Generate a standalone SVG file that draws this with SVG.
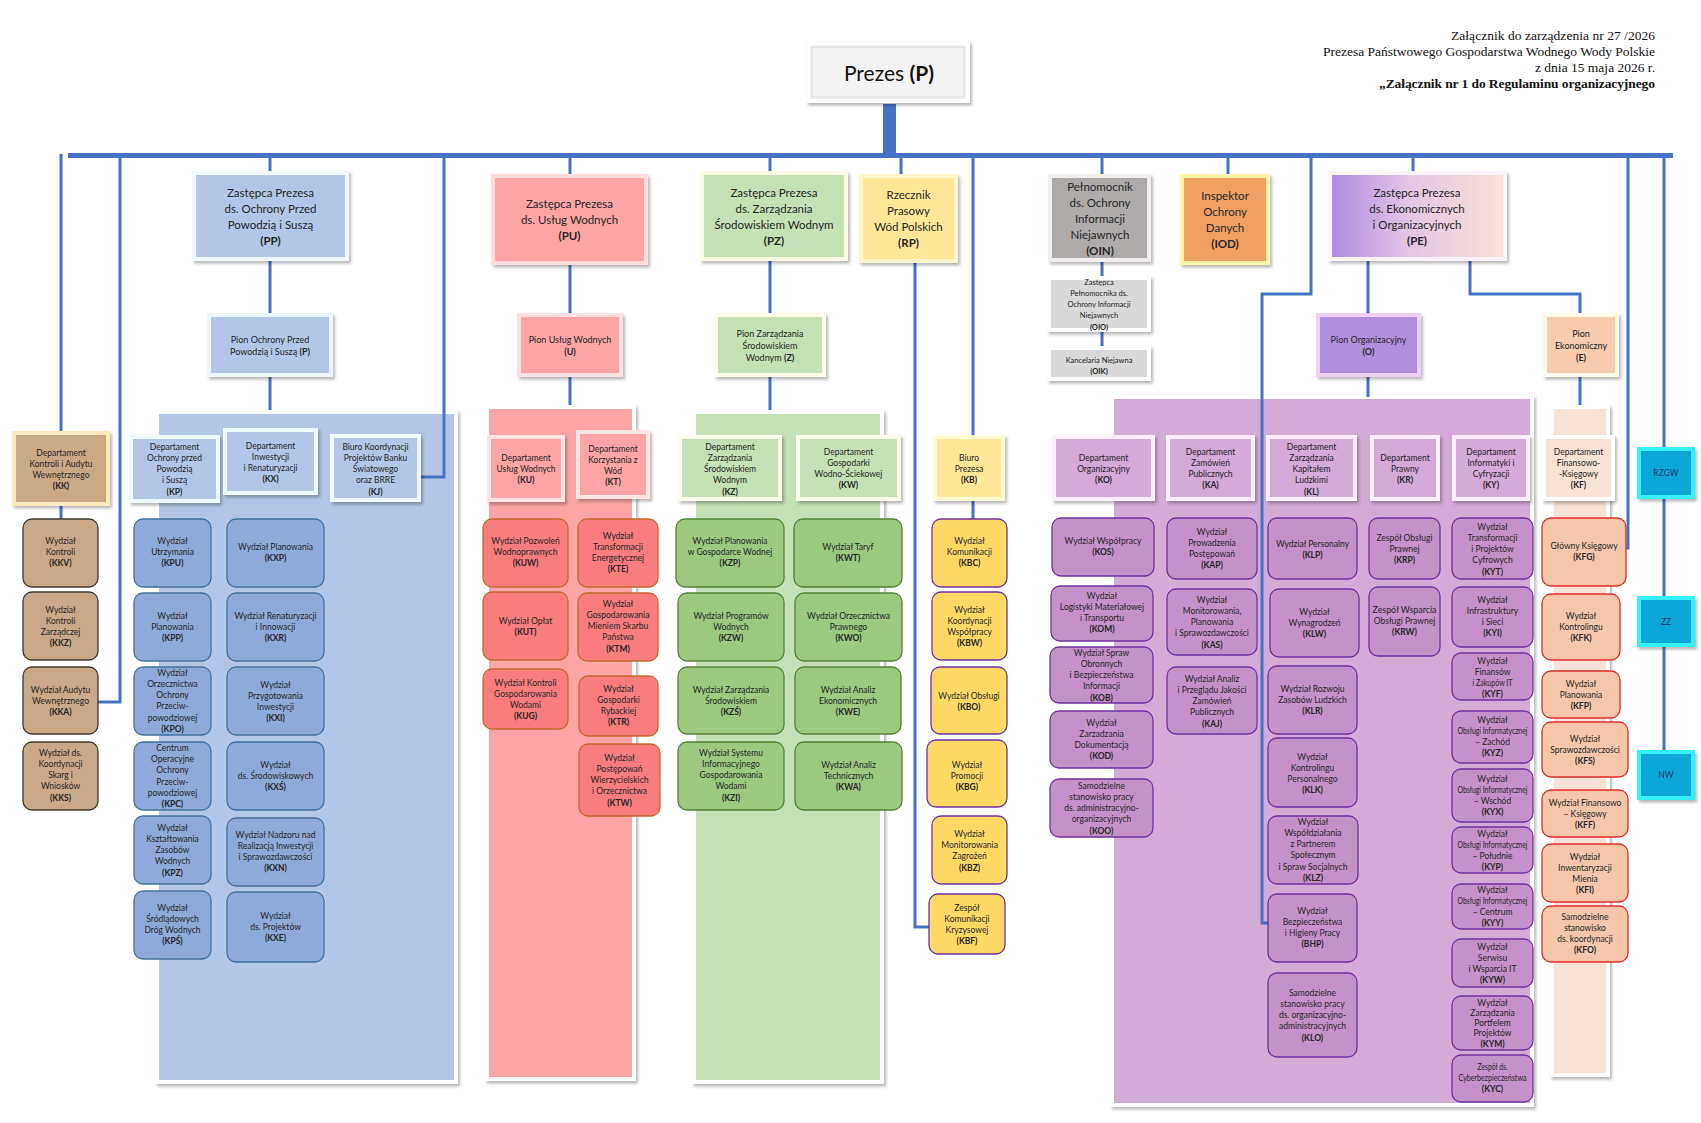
<svg xmlns="http://www.w3.org/2000/svg" width="1701" height="1123" viewBox="0 0 1701 1123">
<defs>
<filter id="sh" x="-10%" y="-10%" width="130%" height="130%"><feDropShadow dx="2" dy="2.5" stdDeviation="1.5" flood-color="#000" flood-opacity="0.28"/></filter>
<linearGradient id="gPE" x1="0" y1="0" x2="1" y2="0"><stop offset="0" stop-color="#ad8ae0"/><stop offset="0.45" stop-color="#e2c6e4"/><stop offset="1" stop-color="#f8e2d6"/></linearGradient>
</defs>
<style>
text{font-family:Lato,"Liberation Sans",sans-serif;fill:#262626;text-anchor:middle}
.s{font-size:8.5px}
.m{font-size:9px}
.l{font-size:11.5px}
.xs{font-size:7.5px}
.b{font-weight:bold}
.hd{font-family:"Liberation Serif",serif;font-size:13.5px;text-anchor:end;fill:#111}
.c{stroke:#4472c4;stroke-width:3;fill:none}
.fr{stroke-width:4;filter:url(#sh)}
.w{rx:9px;ry:9px;stroke-width:1.3px}
.tn{fill:#c8a886;stroke:#3d3830}
.bl{fill:#8eaadb;stroke:#41719c}
.rd{fill:#f97d7d;stroke:#c5682e}
.gr{fill:#9cc97e;stroke:#538135}
.ye{fill:#ffd966;stroke:#7030a0}
.pu{fill:#c492c8;stroke:#7030a0}
.pe{fill:#f5c6a9;stroke:#e02b2b}
.sq{fill:#0ba7d7;stroke:#35f0fa;stroke-width:4;filter:url(#sh)}
.sqt{fill:#1f3864;font-size:8.5px}
</style>
<rect width="1701" height="1123" fill="#fff"/>

<g id="header">
<text class="hd" x="1655" y="40" textLength="204" lengthAdjust="spacing">Załącznik do zarządzenia nr  27 /2026</text>
<text class="hd" x="1655" y="56" textLength="332" lengthAdjust="spacing">Prezesa Państwowego Gospodarstwa Wodnego Wody Polskie</text>
<text class="hd" x="1655" y="72" textLength="120" lengthAdjust="spacing">z dnia 15 maja 2026 r.</text>
<text class="hd b" x="1655" y="88" textLength="276" lengthAdjust="spacing">„Załącznik nr 1 do Regulaminu organizacyjnego</text>
</g>

<g id="panels">
<rect id="panel-P" x="157" y="412" width="299" height="670" fill="#b4c6e7" stroke="#fff" class="fr"/>
<rect id="panel-U" x="487" y="407" width="147" height="672" fill="#fca5a6" stroke="#fff" class="fr"/>
<rect id="panel-Z" x="694" y="412" width="188" height="670" fill="#c5e0b4" stroke="#fff" class="fr"/>
<rect id="panel-O" x="1112" y="397" width="420" height="708" fill="#d4aad7" stroke="#fff" class="fr"/>
<rect id="panel-E" x="1552" y="407" width="56" height="668" fill="#f8e1d5" stroke="#fff" class="fr"/>
</g>

<g id="connectors">
<rect x="883" y="104" width="13" height="52" fill="#4472c4"/>
<line x1="68" y1="155.5" x2="1673" y2="155.5" stroke="#4472c4" stroke-width="5"/>
<path class="c" d="M61 154V433M61 504V519"/>
<path class="c" d="M120 157V702H98"/>
<path class="c" d="M270 157V173M270 259V315M270 375V410"/>
<path class="c" d="M444 157V477H419"/>
<path class="c" d="M570 157V176M570 263V315M570 375V405"/>
<path class="c" d="M770 157V173M770 259V315M770 375V410"/>
<path class="c" d="M901 157V176M915 261V927H929"/>
<path class="c" d="M973 157V437M973 499V519"/>
<path class="c" d="M1102 157V176M1102 260V278M1102 330V348"/>
<path class="c" d="M1228 157V176"/>
<path class="c" d="M1311 157V294H1262V923H1268"/>
<path class="c" d="M1413 157V173M1368 259V315M1368 375V397M1470 259V294H1580V315M1580 375V405"/>
<path class="c" d="M1628 157V548H1626"/>
<path class="c" d="M1664 157V752"/>
</g>

<g id="n-P">
<rect x="808" y="43" width="160" height="58" fill="#f3f3f3" stroke="#fcfcfc" class="fr"/>
<rect x="812" y="47" width="152" height="50" fill="none" stroke="#d9d9d9" stroke-width="1"/>
<text x="889" y="81" style="font-size:21px;fill:#111">Prezes <tspan class="b">(P)</tspan></text>
</g>

<g id="n-PP"><rect x="194" y="173" width="153" height="86" fill="#b4c6e7" stroke="#f2f8ff" class="fr"/>
<text class="l"><tspan x="270.5" y="197">Zastępca Prezesa</tspan><tspan x="270.5" y="213">ds. Ochrony Przed</tspan><tspan x="270.5" y="229">Powodzią i Suszą</tspan><tspan x="270.5" y="245" class="b">(PP)</tspan></text></g>
<g id="n-PU"><rect x="493" y="176" width="153" height="87" fill="#fca5a6" stroke="#ffdcdc" class="fr"/>
<text class="l"><tspan x="569.5" y="208">Zastępca Prezesa</tspan><tspan x="569.5" y="224">ds. Usług Wodnych</tspan><tspan x="569.5" y="240" class="b">(PU)</tspan></text></g>
<g id="n-PZ"><rect x="702" y="173" width="144" height="86" fill="#c5e0b4" stroke="#fbfbe8" class="fr"/>
<text class="l"><tspan x="774" y="197">Zastępca Prezesa</tspan><tspan x="774" y="213">ds. Zarządzania</tspan><tspan x="774" y="229">Środowiskiem Wodnym</tspan><tspan x="774" y="245" class="b">(PZ)</tspan></text></g>
<g id="n-RP"><rect x="861" y="176" width="95" height="85" fill="#ffe699" stroke="#fff7cc" class="fr"/>
<text class="l"><tspan x="908.5" y="199">Rzecznik</tspan><tspan x="908.5" y="215">Prasowy</tspan><tspan x="908.5" y="231">Wód Polskich</tspan><tspan x="908.5" y="247" class="b">(RP)</tspan></text></g>
<g id="n-OIN"><rect x="1050" y="176" width="99" height="84" fill="#aeaaaa" stroke="#f2eeee" class="fr"/>
<text class="l"><tspan x="1100" y="191">Pełnomocnik</tspan><tspan x="1100" y="207">ds. Ochrony</tspan><tspan x="1100" y="223">Informacji</tspan><tspan x="1100" y="239">Niejawnych</tspan><tspan x="1100" y="255" class="b">(OIN)</tspan></text></g>
<g id="n-IOD"><rect x="1182" y="176" width="86" height="87" fill="#f09f62" stroke="#fff3a8" class="fr"/>
<text class="l"><tspan x="1225" y="200">Inspektor</tspan><tspan x="1225" y="216">Ochrony</tspan><tspan x="1225" y="232">Danych</tspan><tspan x="1225" y="248" class="b">(IOD)</tspan></text></g>
<g id="n-PE"><rect x="1330" y="173" width="175" height="86" fill="url(#gPE)" stroke="#fbf4fb" class="fr"/>
<text class="l"><tspan x="1417" y="197">Zastępca Prezesa</tspan><tspan x="1417" y="213">ds. Ekonomicznych</tspan><tspan x="1417" y="229">i Organizacyjnych</tspan><tspan x="1417" y="245" class="b">(PE)</tspan></text></g>

<g id="n-PionP"><rect x="209" y="315" width="122" height="60" fill="#b4c6e7" stroke="#eef6ff" class="fr"/>
<text class="m"><tspan x="270" y="343">Pion Ochrony Przed</tspan><tspan x="270" y="355">Powodzią i Suszą <tspan class="b">(P)</tspan></tspan></text></g>
<g id="n-PionU"><rect x="519" y="315" width="102" height="60" fill="#fca5a6" stroke="#ffe0e0" class="fr"/>
<text class="m"><tspan x="570" y="343">Pion Usług Wodnych</tspan><tspan x="570" y="355" class="b">(U)</tspan></text></g>
<g id="n-PionZ"><rect x="716" y="315" width="108" height="60" fill="#c5e0b4" stroke="#fffde8" class="fr"/>
<text class="m"><tspan x="770" y="337">Pion Zarządzania</tspan><tspan x="770" y="349">Środowiskiem</tspan><tspan x="770" y="361">Wodnym <tspan class="b">(Z)</tspan></tspan></text></g>
<g id="n-PionO"><rect x="1318" y="315" width="101" height="60" fill="#b08fdf" stroke="#eed0f8" class="fr"/>
<text class="m"><tspan x="1368.5" y="343">Pion Organizacyjny</tspan><tspan x="1368.5" y="355" class="b">(O)</tspan></text></g>
<g id="n-PionE"><rect x="1545" y="315" width="72" height="60" fill="#f8cbad" stroke="#fffbe8" class="fr"/>
<text class="m"><tspan x="1581" y="337">Pion</tspan><tspan x="1581" y="349">Ekonomiczny</tspan><tspan x="1581" y="361" class="b">(E)</tspan></text></g>
<g id="n-OIO"><rect x="1049" y="278" width="100" height="52" fill="#d9d9d9" stroke="#fff" class="fr"/>
<text class="xs"><tspan x="1099" y="285">Zastępca</tspan><tspan x="1099" y="296">Pełnomocnika ds.</tspan><tspan x="1099" y="307">Ochrony Informacji</tspan><tspan x="1099" y="318">Niejawnych</tspan><tspan x="1099" y="329.5" class="b">(OIO)</tspan></text></g>
<g id="n-OIK"><rect x="1049" y="348" width="100" height="31" fill="#d9d9d9" stroke="#fff" class="fr"/>
<text class="xs"><tspan x="1099" y="363">Kancelaria Niejawna</tspan><tspan x="1099" y="374" class="b">(OIK)</tspan></text></g>

<g id="n-KK"><rect x="14" y="433" width="94" height="71" fill="#c9a984" stroke="#fde9c0" class="fr"/>
<text class="s"><tspan x="61" y="456">Departament</tspan><tspan x="61" y="467">Kontroli i Audytu</tspan><tspan x="61" y="478">Wewnętrznego</tspan><tspan x="61" y="489" class="b">(KK)</tspan></text></g>
<g id="n-KKV"><rect class="w tn" x="23" y="519" width="75" height="68"/><text class="s"><tspan x="60.5" y="544">Wydział</tspan><tspan x="60.5" y="555">Kontroli</tspan><tspan x="60.5" y="566" class="b">(KKV)</tspan></text></g>
<g id="n-KKZ"><rect class="w tn" x="23" y="592" width="75" height="68"/><text class="s"><tspan x="60.5" y="613">Wydział</tspan><tspan x="60.5" y="624">Kontroli</tspan><tspan x="60.5" y="635">Zarządczej</tspan><tspan x="60.5" y="646" class="b">(KKZ)</tspan></text></g>
<g id="n-KKA"><rect class="w tn" x="23" y="667" width="75" height="67"/><text class="s"><tspan x="60.5" y="693">Wydział Audytu</tspan><tspan x="60.5" y="704">Wewnętrznego</tspan><tspan x="60.5" y="715" class="b">(KKA)</tspan></text></g>
<g id="n-KKS"><rect class="w tn" x="23" y="742" width="75" height="68"/><text class="s"><tspan x="60.5" y="756">Wydział ds.</tspan><tspan x="60.5" y="767">Koordynacji</tspan><tspan x="60.5" y="778">Skarg i</tspan><tspan x="60.5" y="789">Wniosków</tspan><tspan x="60.5" y="801" class="b">(KKS)</tspan></text></g>

<g id="n-KP"><rect x="131" y="437" width="87" height="64" fill="#b4c6e7" stroke="#eefaff" class="fr"/>
<text class="s"><tspan x="174.5" y="450">Departament</tspan><tspan x="174.5" y="461">Ochrony przed</tspan><tspan x="174.5" y="472">Powodzią</tspan><tspan x="174.5" y="483">i Suszą</tspan><tspan x="174.5" y="495" class="b">(KP)</tspan></text></g>
<g id="n-KX"><rect x="225" y="430" width="91" height="63" fill="#b4c6e7" stroke="#eefaff" class="fr"/>
<text class="s"><tspan x="270.5" y="449">Departament</tspan><tspan x="270.5" y="460">Inwestycji</tspan><tspan x="270.5" y="471">i Renaturyzacji</tspan><tspan x="270.5" y="482" class="b">(KX)</tspan></text></g>
<g id="n-KJ"><rect x="332" y="436" width="87" height="64" fill="#b4c6e7" stroke="#eefaff" class="fr"/>
<text class="s"><tspan x="375.5" y="450">Biuro Koordynacji</tspan><tspan x="375.5" y="461">Projektów Banku</tspan><tspan x="375.5" y="472">Światowego</tspan><tspan x="375.5" y="483">oraz BRRE</tspan><tspan x="375.5" y="495" class="b">(KJ)</tspan></text></g>
<g id="n-KPU"><rect class="w bl" x="134" y="519" width="77" height="68"/><text class="s"><tspan x="172.5" y="544">Wydział</tspan><tspan x="172.5" y="555">Utrzymania</tspan><tspan x="172.5" y="566" class="b">(KPU)</tspan></text></g>
<g id="n-KXP"><rect class="w bl" x="227" y="519" width="97" height="68"/><text class="s"><tspan x="275.5" y="550">Wydział Planowania</tspan><tspan x="275.5" y="561" class="b">(KXP)</tspan></text></g>
<g id="n-KPP"><rect class="w bl" x="134" y="593" width="77" height="68"/><text class="s"><tspan x="172.5" y="619">Wydział</tspan><tspan x="172.5" y="630">Planowania</tspan><tspan x="172.5" y="641" class="b">(KPP)</tspan></text></g>
<g id="n-KXR"><rect class="w bl" x="227" y="593" width="97" height="68"/><text class="s"><tspan x="275.5" y="619">Wydział Renaturyzacji</tspan><tspan x="275.5" y="630">i Innowacji</tspan><tspan x="275.5" y="641" class="b">(KXR)</tspan></text></g>
<g id="n-KPO"><rect class="w bl" x="134" y="667" width="77" height="68"/><text class="s"><tspan x="172.5" y="676">Wydział</tspan><tspan x="172.5" y="687">Orzecznictwa</tspan><tspan x="172.5" y="698">Ochrony</tspan><tspan x="172.5" y="709">Przeciw-</tspan><tspan x="172.5" y="721">powodziowej</tspan><tspan x="172.5" y="732" class="b">(KPO)</tspan></text></g>
<g id="n-KXI"><rect class="w bl" x="227" y="667" width="97" height="68"/><text class="s"><tspan x="275.5" y="688">Wydział</tspan><tspan x="275.5" y="699">Przygotowania</tspan><tspan x="275.5" y="710">Inwestycji</tspan><tspan x="275.5" y="721" class="b">(KXI)</tspan></text></g>
<g id="n-KPC"><rect class="w bl" x="134" y="742" width="77" height="68"/><text class="s"><tspan x="172.5" y="751">Centrum</tspan><tspan x="172.5" y="762">Operacyjne</tspan><tspan x="172.5" y="773">Ochrony</tspan><tspan x="172.5" y="785">Przeciw-</tspan><tspan x="172.5" y="796">powodziowej</tspan><tspan x="172.5" y="807" class="b">(KPC)</tspan></text></g>
<g id="n-KXS"><rect class="w bl" x="227" y="742" width="97" height="68"/><text class="s"><tspan x="275.5" y="768">Wydział</tspan><tspan x="275.5" y="779">ds. Środowiskowych</tspan><tspan x="275.5" y="790" class="b">(KXŚ)</tspan></text></g>
<g id="n-KPZ"><rect class="w bl" x="134" y="816" width="77" height="68"/><text class="s"><tspan x="172.5" y="831">Wydział</tspan><tspan x="172.5" y="842">Kształtowania</tspan><tspan x="172.5" y="853">Zasobów</tspan><tspan x="172.5" y="864">Wodnych</tspan><tspan x="172.5" y="876" class="b">(KPZ)</tspan></text></g>
<g id="n-KXN"><rect class="w bl" x="227" y="818" width="97" height="68"/><text class="s"><tspan x="275.5" y="838">Wydział Nadzoru nad</tspan><tspan x="275.5" y="849">Realizacją Inwestycji</tspan><tspan x="275.5" y="860">i Sprawozdawczości</tspan><tspan x="275.5" y="871" class="b">(KXN)</tspan></text></g>
<g id="n-KPS"><rect class="w bl" x="134" y="891" width="77" height="68"/><text class="s"><tspan x="172.5" y="911">Wydział</tspan><tspan x="172.5" y="922">Śródlądowych</tspan><tspan x="172.5" y="933">Dróg Wodnych</tspan><tspan x="172.5" y="944" class="b">(KPŚ)</tspan></text></g>
<g id="n-KXE"><rect class="w bl" x="227" y="892" width="97" height="70"/><text class="s"><tspan x="275.5" y="919">Wydział</tspan><tspan x="275.5" y="930">ds. Projektów</tspan><tspan x="275.5" y="941" class="b">(KXE)</tspan></text></g>

<g id="n-KU"><rect x="489" y="437" width="74" height="63" fill="#fca5a6" stroke="#ffe4e4" class="fr"/>
<text class="s"><tspan x="526" y="461">Departament</tspan><tspan x="526" y="472">Usług Wodnych</tspan><tspan x="526" y="483" class="b">(KU)</tspan></text></g>
<g id="n-KT"><rect x="578" y="432" width="70" height="65" fill="#fca5a6" stroke="#ffe4e4" class="fr"/>
<text class="s"><tspan x="613" y="452">Departament</tspan><tspan x="613" y="463">Korzystania z</tspan><tspan x="613" y="474">Wód</tspan><tspan x="613" y="485" class="b">(KT)</tspan></text></g>
<g id="n-KUW"><rect class="w rd" x="483" y="519" width="85" height="68"/><text class="s"><tspan x="525.5" y="544">Wydział Pozwoleń</tspan><tspan x="525.5" y="555">Wodnoprawnych</tspan><tspan x="525.5" y="566" class="b">(KUW)</tspan></text></g>
<g id="n-KTE"><rect class="w rd" x="578" y="519" width="80" height="68"/><text class="s"><tspan x="618" y="539">Wydział</tspan><tspan x="618" y="550">Transformacji</tspan><tspan x="618" y="561">Energetycznej</tspan><tspan x="618" y="572" class="b">(KTE)</tspan></text></g>
<g id="n-KUT"><rect class="w rd" x="483" y="592" width="85" height="68"/><text class="s"><tspan x="525.5" y="624">Wydział Opłat</tspan><tspan x="525.5" y="635" class="b">(KUT)</tspan></text></g>
<g id="n-KTM"><rect class="w rd" x="578" y="593" width="80" height="68"/><text class="s"><tspan x="618" y="607">Wydział</tspan><tspan x="618" y="618">Gospodarowania</tspan><tspan x="618" y="629">Mieniem Skarbu</tspan><tspan x="618" y="640">Państwa</tspan><tspan x="618" y="652" class="b">(KTM)</tspan></text></g>
<g id="n-KUG"><rect class="w rd" x="483" y="669" width="85" height="60"/><text class="s"><tspan x="525.5" y="686">Wydział Kontroli</tspan><tspan x="525.5" y="697">Gospodarowania</tspan><tspan x="525.5" y="708">Wodami</tspan><tspan x="525.5" y="719" class="b">(KUG)</tspan></text></g>
<g id="n-KTR"><rect class="w rd" x="579" y="676" width="79" height="60"/><text class="s"><tspan x="618.5" y="692">Wydział</tspan><tspan x="618.5" y="703">Gospodarki</tspan><tspan x="618.5" y="714">Rybackiej</tspan><tspan x="618.5" y="725" class="b">(KTR)</tspan></text></g>
<g id="n-KTW"><rect class="w rd" x="579" y="744" width="81" height="72"/><text class="s"><tspan x="619.5" y="761">Wydział</tspan><tspan x="619.5" y="772">Postępowań</tspan><tspan x="619.5" y="783">Wierzycielskich</tspan><tspan x="619.5" y="794">i Orzecznictwa</tspan><tspan x="619.5" y="806" class="b">(KTW)</tspan></text></g>

<g id="n-KZ"><rect x="680" y="437" width="100" height="62" fill="#c5e0b4" stroke="#fdfdec" class="fr"/>
<text class="s"><tspan x="730" y="450">Departament</tspan><tspan x="730" y="461">Zarządzania</tspan><tspan x="730" y="472">Środowiskiem</tspan><tspan x="730" y="483">Wodnym</tspan><tspan x="730" y="495" class="b">(KZ)</tspan></text></g>
<g id="n-KW"><rect x="798" y="437" width="101" height="62" fill="#c5e0b4" stroke="#fdfdec" class="fr"/>
<text class="s"><tspan x="848.5" y="455">Departament</tspan><tspan x="848.5" y="466">Gospodarki</tspan><tspan x="848.5" y="477">Wodno-Ściekowej</tspan><tspan x="848.5" y="488" class="b">(KW)</tspan></text></g>
<g id="n-KZP"><rect class="w gr" x="676" y="519" width="108" height="68"/><text class="s"><tspan x="730" y="544">Wydział Planowania</tspan><tspan x="730" y="555">w Gospodarce Wodnej</tspan><tspan x="730" y="566" class="b">(KZP)</tspan></text></g>
<g id="n-KWT"><rect class="w gr" x="794" y="519" width="108" height="68"/><text class="s"><tspan x="848" y="550">Wydział Taryf</tspan><tspan x="848" y="561" class="b">(KWT)</tspan></text></g>
<g id="n-KZW"><rect class="w gr" x="678" y="593" width="106" height="68"/><text class="s"><tspan x="731" y="619">Wydział Programów</tspan><tspan x="731" y="630">Wodnych</tspan><tspan x="731" y="641" class="b">(KZW)</tspan></text></g>
<g id="n-KWO"><rect class="w gr" x="795" y="593" width="107" height="68"/><text class="s"><tspan x="848.5" y="619">Wydział Orzecznictwa</tspan><tspan x="848.5" y="630">Prawnego</tspan><tspan x="848.5" y="641" class="b">(KWO)</tspan></text></g>
<g id="n-KZS"><rect class="w gr" x="678" y="667" width="106" height="67"/><text class="s"><tspan x="731" y="693">Wydział Zarządzania</tspan><tspan x="731" y="704">Środowiskiem</tspan><tspan x="731" y="715" class="b">(KZŚ)</tspan></text></g>
<g id="n-KWE"><rect class="w gr" x="795" y="667" width="106" height="67"/><text class="s"><tspan x="848" y="693">Wydział Analiz</tspan><tspan x="848" y="704">Ekonomicznych</tspan><tspan x="848" y="715" class="b">(KWE)</tspan></text></g>
<g id="n-KZI"><rect class="w gr" x="678" y="742" width="106" height="68"/><text class="s"><tspan x="731" y="756">Wydział Systemu</tspan><tspan x="731" y="767">Informacyjnego</tspan><tspan x="731" y="778">Gospodarowania</tspan><tspan x="731" y="789">Wodami</tspan><tspan x="731" y="801" class="b">(KZI)</tspan></text></g>
<g id="n-KWA"><rect class="w gr" x="795" y="742" width="107" height="68"/><text class="s"><tspan x="848.5" y="768">Wydział Analiz</tspan><tspan x="848.5" y="779">Technicznych</tspan><tspan x="848.5" y="790" class="b">(KWA)</tspan></text></g>

<g id="n-KB"><rect x="935" y="437" width="68" height="62" fill="#ffe699" stroke="#ffffd4" class="fr"/>
<text class="s"><tspan x="969" y="461">Biuro</tspan><tspan x="969" y="472">Prezesa</tspan><tspan x="969" y="483" class="b">(KB)</tspan></text></g>
<g id="n-KBC"><rect class="w ye" x="932" y="519" width="75" height="68"/><text class="s"><tspan x="969.5" y="544">Wydział</tspan><tspan x="969.5" y="555">Komunikacji</tspan><tspan x="969.5" y="566" class="b">(KBC)</tspan></text></g>
<g id="n-KBW"><rect class="w ye" x="932" y="592" width="75" height="68"/><text class="s"><tspan x="969.5" y="613">Wydział</tspan><tspan x="969.5" y="624">Koordynacji</tspan><tspan x="969.5" y="635">Współpracy</tspan><tspan x="969.5" y="646" class="b">(KBW)</tspan></text></g>
<g id="n-KBO"><rect class="w ye" x="931" y="667" width="76" height="67"/><text class="s"><tspan x="969" y="699">Wydział Obsługi</tspan><tspan x="969" y="710" class="b">(KBO)</tspan></text></g>
<g id="n-KBG"><rect class="w ye" x="927" y="740" width="80" height="67"/><text class="s"><tspan x="967" y="768">Wydział</tspan><tspan x="967" y="779">Promocji</tspan><tspan x="967" y="790" class="b">(KBG)</tspan></text></g>
<g id="n-KBZ"><rect class="w ye" x="932" y="816" width="75" height="68"/><text class="s"><tspan x="969.5" y="837">Wydział</tspan><tspan x="969.5" y="848">Monitorowania</tspan><tspan x="969.5" y="859">Zagrożeń</tspan><tspan x="969.5" y="871" class="b">(KBZ)</tspan></text></g>
<g id="n-KBF"><rect class="w ye" x="929" y="894" width="76" height="60"/><text class="s"><tspan x="967" y="911">Zespół</tspan><tspan x="967" y="922">Komunikacji</tspan><tspan x="967" y="933">Kryzysowej</tspan><tspan x="967" y="944" class="b">(KBF)</tspan></text></g>

<g id="n-KO"><rect x="1054" y="437" width="99" height="62" fill="#d4aad7" stroke="#fdf0fd" class="fr"/>
<text class="s"><tspan x="1103.5" y="461">Departament</tspan><tspan x="1103.5" y="472">Organizacyjny</tspan><tspan x="1103.5" y="483" class="b">(KO)</tspan></text></g>
<g id="n-KA"><rect x="1168" y="437" width="85" height="62" fill="#d4aad7" stroke="#fdf0fd" class="fr"/>
<text class="s"><tspan x="1210.5" y="455">Departament</tspan><tspan x="1210.5" y="466">Zamówień</tspan><tspan x="1210.5" y="477">Publicznych</tspan><tspan x="1210.5" y="488" class="b">(KA)</tspan></text></g>
<g id="n-KL"><rect x="1268" y="437" width="87" height="62" fill="#d4aad7" stroke="#fdf0fd" class="fr"/>
<text class="s"><tspan x="1311.5" y="450">Departament</tspan><tspan x="1311.5" y="461">Zarządzania</tspan><tspan x="1311.5" y="472">Kapitałem</tspan><tspan x="1311.5" y="483">Ludzkimi</tspan><tspan x="1311.5" y="495" class="b">(KL)</tspan></text></g>
<g id="n-KR"><rect x="1372" y="437" width="66" height="62" fill="#d4aad7" stroke="#fdf0fd" class="fr"/>
<text class="s"><tspan x="1405" y="461">Departament</tspan><tspan x="1405" y="472">Prawny</tspan><tspan x="1405" y="483" class="b">(KR)</tspan></text></g>
<g id="n-KY"><rect x="1454" y="437" width="74" height="62" fill="#d4aad7" stroke="#fdf0fd" class="fr"/>
<text class="s"><tspan x="1491" y="455">Departament</tspan><tspan x="1491" y="466">Informatyki i</tspan><tspan x="1491" y="477">Cyfryzacji</tspan><tspan x="1491" y="488" class="b">(KY)</tspan></text></g>
<g id="n-KF"><rect x="1544" y="437" width="69" height="62" fill="#f8e1d5" stroke="#fff" class="fr"/>
<text class="s"><tspan x="1578.5" y="455">Departament</tspan><tspan x="1578.5" y="466">Finansowo-</tspan><tspan x="1578.5" y="477">-Księgowy</tspan><tspan x="1578.5" y="488" class="b">(KF)</tspan></text></g>

<g id="n-KOS"><rect class="w pu" x="1052" y="518" width="102" height="58"/><text class="s"><tspan x="1103" y="544">Wydział Współpracy</tspan><tspan x="1103" y="555" class="b">(KOS)</tspan></text></g>
<g id="n-KOM"><rect class="w pu" x="1051" y="586" width="102" height="55"/><text class="s"><tspan x="1102" y="599">Wydział</tspan><tspan x="1102" y="610">Logistyki Materiałowej</tspan><tspan x="1102" y="621">i Transportu</tspan><tspan x="1102" y="632" class="b">(KOM)</tspan></text></g>
<g id="n-KOB"><rect class="w pu" x="1050" y="647" width="103" height="56"/><text class="s"><tspan x="1101.5" y="656">Wydział Spraw</tspan><tspan x="1101.5" y="667">Obronnych</tspan><tspan x="1101.5" y="678">i Bezpieczeństwa</tspan><tspan x="1101.5" y="689">Informacji</tspan><tspan x="1101.5" y="701" class="b">(KOB)</tspan></text></g>
<g id="n-KOD"><rect class="w pu" x="1050" y="711" width="103" height="57"/><text class="s"><tspan x="1101.5" y="726">Wydział</tspan><tspan x="1101.5" y="737">Zarzadzania</tspan><tspan x="1101.5" y="748">Dokumentacją</tspan><tspan x="1101.5" y="759" class="b">(KOD)</tspan></text></g>
<g id="n-KOO"><rect class="w pu" x="1050" y="779" width="103" height="58"/><text class="s"><tspan x="1101.5" y="789">Samodzielne</tspan><tspan x="1101.5" y="800">stanowisko pracy</tspan><tspan x="1101.5" y="811">ds. administracyjno-</tspan><tspan x="1101.5" y="822">organizacyjnych</tspan><tspan x="1101.5" y="834" class="b">(KOO)</tspan></text></g>

<g id="n-KAP"><rect class="w pu" x="1167" y="518" width="90" height="61"/><text class="s"><tspan x="1212" y="535">Wydział</tspan><tspan x="1212" y="546">Prowadzenia</tspan><tspan x="1212" y="557">Postępowań</tspan><tspan x="1212" y="568" class="b">(KAP)</tspan></text></g>
<g id="n-KAS"><rect class="w pu" x="1167" y="589" width="90" height="66"/><text class="s"><tspan x="1212" y="603">Wydział</tspan><tspan x="1212" y="614">Monitorowania,</tspan><tspan x="1212" y="625">Planowania</tspan><tspan x="1212" y="636">i Sprawozdawczości</tspan><tspan x="1212" y="648" class="b">(KAS)</tspan></text></g>
<g id="n-KAJ"><rect class="w pu" x="1167" y="667" width="90" height="67"/><text class="s"><tspan x="1212" y="682">Wydział Analiz</tspan><tspan x="1212" y="693">i Przeglądu Jakości</tspan><tspan x="1212" y="704">Zamówień</tspan><tspan x="1212" y="715">Publicznych</tspan><tspan x="1212" y="727" class="b">(KAJ)</tspan></text></g>

<g id="n-KLP"><rect class="w pu" x="1268" y="518" width="89" height="61"/><text class="s"><tspan x="1312.5" y="547">Wydział Personalny</tspan><tspan x="1312.5" y="558" class="b">(KLP)</tspan></text></g>
<g id="n-KLW"><rect class="w pu" x="1270" y="589" width="89" height="68"/><text class="s"><tspan x="1314.5" y="615">Wydział</tspan><tspan x="1314.5" y="626">Wynagrodzeń</tspan><tspan x="1314.5" y="637" class="b">(KLW)</tspan></text></g>
<g id="n-KLR"><rect class="w pu" x="1268" y="666" width="89" height="68"/><text class="s"><tspan x="1312.5" y="692">Wydział Rozwoju</tspan><tspan x="1312.5" y="703">Zasobów Ludzkich</tspan><tspan x="1312.5" y="714" class="b">(KLR)</tspan></text></g>
<g id="n-KLK"><rect class="w pu" x="1268" y="738" width="89" height="69"/><text class="s"><tspan x="1312.5" y="760">Wydział</tspan><tspan x="1312.5" y="771">Kontrolingu</tspan><tspan x="1312.5" y="782">Personalnego</tspan><tspan x="1312.5" y="793" class="b">(KLK)</tspan></text></g>
<g id="n-KLZ"><rect class="w pu" x="1268" y="816" width="90" height="68"/><text class="s"><tspan x="1313" y="825">Wydział</tspan><tspan x="1313" y="836">Współdziałania</tspan><tspan x="1313" y="847">z Partnerem</tspan><tspan x="1313" y="858">Społecznym</tspan><tspan x="1313" y="870">i Spraw Socjalnych</tspan><tspan x="1313" y="881" class="b">(KLZ)</tspan></text></g>
<g id="n-BHP"><rect class="w pu" x="1268" y="894" width="89" height="68"/><text class="s"><tspan x="1312.5" y="914">Wydział</tspan><tspan x="1312.5" y="925">Bezpieczeństwa</tspan><tspan x="1312.5" y="936">i Higieny Pracy</tspan><tspan x="1312.5" y="947" class="b">(BHP)</tspan></text></g>
<g id="n-KLO"><rect class="w pu" x="1268" y="973" width="89" height="84"/><text class="s"><tspan x="1312.5" y="996">Samodzielne</tspan><tspan x="1312.5" y="1007">stanowisko pracy</tspan><tspan x="1312.5" y="1018">ds. organizacyjno-</tspan><tspan x="1312.5" y="1029">administracyjnych</tspan><tspan x="1312.5" y="1041" class="b">(KLO)</tspan></text></g>

<g id="n-KRP"><rect class="w pu" x="1369" y="518" width="71" height="61"/><text class="s"><tspan x="1404.5" y="541">Zespół Obsługi</tspan><tspan x="1404.5" y="552">Prawnej</tspan><tspan x="1404.5" y="563" class="b">(KRP)</tspan></text></g>
<g id="n-KRW"><rect class="w pu" x="1369" y="587" width="71" height="69"/><text class="s"><tspan x="1404.5" y="613" textLength="64" lengthAdjust="spacingAndGlyphs">Zespół Wsparcia</tspan><tspan x="1404.5" y="624">Obsługi Prawnej</tspan><tspan x="1404.5" y="635" class="b">(KRW)</tspan></text></g>

<g id="n-KYT"><rect class="w pu" x="1452" y="518" width="81" height="61"/><text class="s"><tspan x="1492.5" y="530">Wydział</tspan><tspan x="1492.5" y="541">Transformacji</tspan><tspan x="1492.5" y="552">i Projektów</tspan><tspan x="1492.5" y="563">Cyfrowych</tspan><tspan x="1492.5" y="575" class="b">(KYT)</tspan></text></g>
<g id="n-KYI"><rect class="w pu" x="1452" y="587" width="81" height="60"/><text class="s"><tspan x="1492.5" y="603">Wydział</tspan><tspan x="1492.5" y="614">Infrastruktury</tspan><tspan x="1492.5" y="625">i Sieci</tspan><tspan x="1492.5" y="636" class="b">(KYI)</tspan></text></g>
<g id="n-KYF"><rect class="w pu" x="1452" y="653" width="81" height="47"/><text class="s"><tspan x="1492.5" y="664">Wydział</tspan><tspan x="1492.5" y="675">Finansów</tspan><tspan x="1492.5" y="686" textLength="40" lengthAdjust="spacingAndGlyphs">i Zakupów IT</tspan><tspan x="1492.5" y="697" class="b">(KYF)</tspan></text></g>
<g id="n-KYZ"><rect class="w pu" x="1452" y="711" width="81" height="52"/><text class="s"><tspan x="1492.5" y="723">Wydział</tspan><tspan x="1492.5" y="734" textLength="70" lengthAdjust="spacingAndGlyphs">Obsługi Informatycznej</tspan><tspan x="1492.5" y="745">– Zachód</tspan><tspan x="1492.5" y="756" class="b">(KYZ)</tspan></text></g>
<g id="n-KYX"><rect class="w pu" x="1452" y="769" width="81" height="53"/><text class="s"><tspan x="1492.5" y="782">Wydział</tspan><tspan x="1492.5" y="793" textLength="70" lengthAdjust="spacingAndGlyphs">Obsługi Informatycznej</tspan><tspan x="1492.5" y="804">– Wschód</tspan><tspan x="1492.5" y="815" class="b">(KYX)</tspan></text></g>
<g id="n-KYP"><rect class="w pu" x="1452" y="827" width="81" height="46"/><text class="s"><tspan x="1492.5" y="837">Wydział</tspan><tspan x="1492.5" y="848" textLength="70" lengthAdjust="spacingAndGlyphs">Obsługi Informatycznej</tspan><tspan x="1492.5" y="859">– Południe</tspan><tspan x="1492.5" y="870" class="b">(KYP)</tspan></text></g>
<g id="n-KYY"><rect class="w pu" x="1452" y="884" width="81" height="45"/><text class="s"><tspan x="1492.5" y="893">Wydział</tspan><tspan x="1492.5" y="904" textLength="70" lengthAdjust="spacingAndGlyphs">Obsługi Informatycznej</tspan><tspan x="1492.5" y="915">– Centrum</tspan><tspan x="1492.5" y="926" class="b">(KYY)</tspan></text></g>
<g id="n-KYW"><rect class="w pu" x="1452" y="939" width="81" height="48"/><text class="s"><tspan x="1492.5" y="950">Wydział</tspan><tspan x="1492.5" y="961">Serwisu</tspan><tspan x="1492.5" y="972">i Wsparcia IT</tspan><tspan x="1492.5" y="983" class="b">(KYW)</tspan></text></g>
<g id="n-KYM"><rect class="w pu" x="1452" y="996" width="81" height="54"/><text class="s"><tspan x="1492.5" y="1006">Wydział</tspan><tspan x="1492.5" y="1016">Zarządzania</tspan><tspan x="1492.5" y="1026">Portfelem</tspan><tspan x="1492.5" y="1036">Projektów</tspan><tspan x="1492.5" y="1047" class="b">(KYM)</tspan></text></g>
<g id="n-KYC"><rect class="w pu" x="1452" y="1055" width="81" height="47"/><text class="s"><tspan x="1492.5" y="1070" textLength="30" lengthAdjust="spacingAndGlyphs">Zespół ds.</tspan><tspan x="1492.5" y="1081" textLength="68" lengthAdjust="spacingAndGlyphs">Cyberbezpieczeństwa</tspan><tspan x="1492.5" y="1092" class="b">(KYC)</tspan></text></g>

<g id="n-KFG"><rect class="w pe" x="1542" y="518" width="84" height="68"/><text class="s"><tspan x="1584" y="549">Główny Księgowy</tspan><tspan x="1584" y="560" class="b">(KFG)</tspan></text></g>
<g id="n-KFK"><rect class="w pe" x="1542" y="594" width="78" height="66"/><text class="s"><tspan x="1581" y="619">Wydział</tspan><tspan x="1581" y="630">Kontrolingu</tspan><tspan x="1581" y="641" class="b">(KFK)</tspan></text></g>
<g id="n-KFP"><rect class="w pe" x="1542" y="671" width="78" height="47"/><text class="s"><tspan x="1581" y="687">Wydział</tspan><tspan x="1581" y="698">Planowania</tspan><tspan x="1581" y="709" class="b">(KFP)</tspan></text></g>
<g id="n-KFS"><rect class="w pe" x="1542" y="722" width="86" height="55"/><text class="s"><tspan x="1585" y="742">Wydział</tspan><tspan x="1585" y="753">Sprawozdawczości</tspan><tspan x="1585" y="764" class="b">(KFS)</tspan></text></g>
<g id="n-KFF"><rect class="w pe" x="1542" y="790" width="86" height="47"/><text class="s"><tspan x="1585" y="806">Wydział Finansowo</tspan><tspan x="1585" y="817">– Księgowy</tspan><tspan x="1585" y="828" class="b">(KFF)</tspan></text></g>
<g id="n-KFI"><rect class="w pe" x="1542" y="844" width="86" height="58"/><text class="s"><tspan x="1585" y="860">Wydział</tspan><tspan x="1585" y="871">Inwentaryzacji</tspan><tspan x="1585" y="882">Mienia</tspan><tspan x="1585" y="893" class="b">(KFI)</tspan></text></g>
<g id="n-KFO"><rect class="w pe" x="1542" y="906" width="86" height="56"/><text class="s"><tspan x="1585" y="920">Samodzielne</tspan><tspan x="1585" y="931">stanowisko</tspan><tspan x="1585" y="942">ds. koordynacji</tspan><tspan x="1585" y="953" class="b">(KFO)</tspan></text></g>

<g id="n-RZGW"><rect class="sq" x="1639" y="449" width="54" height="48"/><text class="sqt" x="1666" y="476">RZGW</text></g>
<g id="n-ZZ"><rect class="sq" x="1639" y="598" width="54" height="47"/><text class="sqt" x="1666" y="624.5">ZZ</text></g>
<g id="n-NW"><rect class="sq" x="1639" y="752" width="54" height="46"/><text class="sqt" x="1666" y="778">NW</text></g>
</svg>
